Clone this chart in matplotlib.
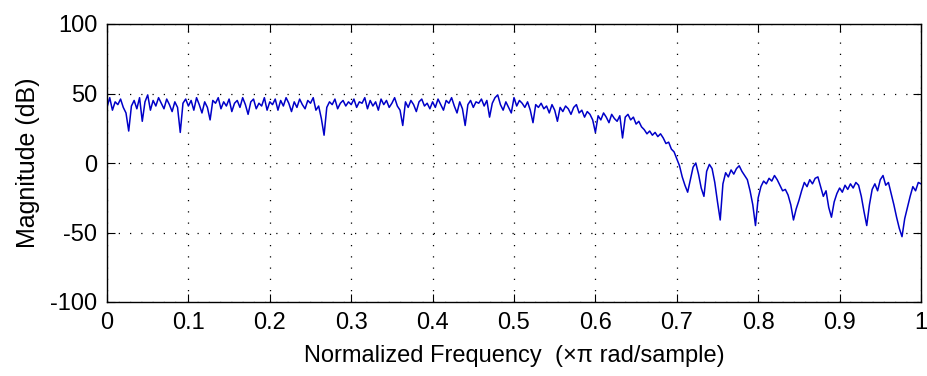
import numpy as np
import matplotlib
matplotlib.use("Agg")
import matplotlib.pyplot as plt

x_ticks = [0, 0.1, 0.2, 0.3, 0.4, 0.5, 0.6, 0.7, 0.8, 0.9, 1]
x_tick_labels = ["0", "0.1", "0.2", "0.3", "0.4", "0.5", "0.6", "0.7", "0.8", "0.9", "1"]
y_ticks = [-100, -50, 0, 50, 100]
y_tick_labels = ["-100", "-50", "0", "50", "100"]

mag_00_01 = [40, 47, 38, 44, 42, 46, 40, 36, 23, 41, 45, 39, 47, 30, 44, 49, 38, 45, 41, 47,
             43, 39, 46, 42, 37, 44, 40, 22, 43, 46]
mag_01_02 = [41, 45, 38, 47, 42, 36, 44, 40, 31, 45, 43, 47, 39, 44, 41, 46, 37, 43, 45, 40,
             47, 42, 35, 44, 46, 39, 43, 41, 47, 38]
mag_02_03 = [44, 42, 46, 38, 45, 41, 47, 43, 37, 44, 40, 46, 42, 39, 45, 43, 47, 38, 41, 32,
             20, 40, 44, 42, 46, 39, 43, 45, 41, 44]
mag_03_04 = [42, 46, 40, 44, 43, 47, 39, 45, 41, 44, 38, 46, 42, 45, 40, 43, 47, 41, 38, 27,
             44, 40, 45, 42, 37, 44, 46, 41, 43, 39]
mag_04_05 = [44, 40, 46, 42, 38, 45, 43, 47, 41, 36, 44, 39, 27, 42, 45, 40, 44, 43, 46, 41,
             45, 33, 43, 47, 49, 42, 38, 44, 40, 36]
mag_05_06 = [47, 41, 45, 43, 40, 44, 38, 29, 42, 40, 43, 39, 41, 36, 42, 38, 30, 40, 37, 41,
             39, 35, 40, 42, 36, 38, 33, 37, 35, 31]
mag_06_07 = [22, 34, 31, 36, 33, 29, 35, 32, 30, 34, 18, 33, 35, 31, 33, 28, 30, 26, 24, 21,
             23, 20, 22, 19, 21, 18, 14, 15, 10, 8]
mag_07_08 = [3, -2, -10, -16, -21, -12, -3, 0, -8, -18, -24, -6, -1, -4, -14, -28, -41, -15, -7, -10,
             -5, -8, -4, -2, -6, -9, -12, -20, -30, -45]
mag_08_09 = [-25, -17, -13, -15, -11, -13, -9, -12, -16, -20, -19, -23, -30, -41, -33, -27, -20, -14, -17, -12,
             -15, -11, -10, -17, -24, -20, -32, -39, -28, -22]
mag_09_10 = [-18, -21, -16, -19, -15, -18, -14, -16, -24, -35, -45, -30, -19, -15, -20, -12, -9, -16, -14, -22,
             -30, -39, -47, -53, -40, -32, -24, -17, -20, -14, -15]

magnitude = (mag_00_01 + mag_01_02 + mag_02_03 + mag_03_04 + mag_04_05 +
             mag_05_06 + mag_06_07 + mag_07_08 + mag_08_09 + mag_09_10)
freq = np.arange(len(magnitude)) / (len(magnitude) - 1)

plt.rcParams['font.family'] = ['Liberation Sans', 'DejaVu Sans']

fig = plt.figure(figsize=(9.28, 3.76), dpi=100)
ax = fig.add_axes([107/928, 1 - 302/376, (921 - 107)/928, (302 - 24)/376])

ax.plot(freq, magnitude, color="#0000c8", linewidth=1.1)

ax.set_xlim(0, 1)
ax.set_ylim(-100, 100)
ax.set_xticks(x_ticks)
ax.set_xticklabels(x_tick_labels)
ax.set_yticks(y_ticks)
ax.set_yticklabels(y_tick_labels)
ax.grid(True, color="black", linestyle=(0, (1, 8)), linewidth=0.9)
ax.tick_params(direction="in", length=6, top=True, right=True, labelsize=17, color="black")
ax.tick_params(axis="x", pad=7)
ax.tick_params(axis="y", pad=7)
for s in ax.spines.values():
    s.set_linewidth(1.0)
    s.set_color("black")

ax.set_xlabel("Normalized Frequency  (\u00d7\u03c0 rad/sample)", fontsize=17, labelpad=8)
ax.set_ylabel("Magnitude (dB)", fontsize=18, labelpad=7)

fig.savefig("out.png", dpi=100)
